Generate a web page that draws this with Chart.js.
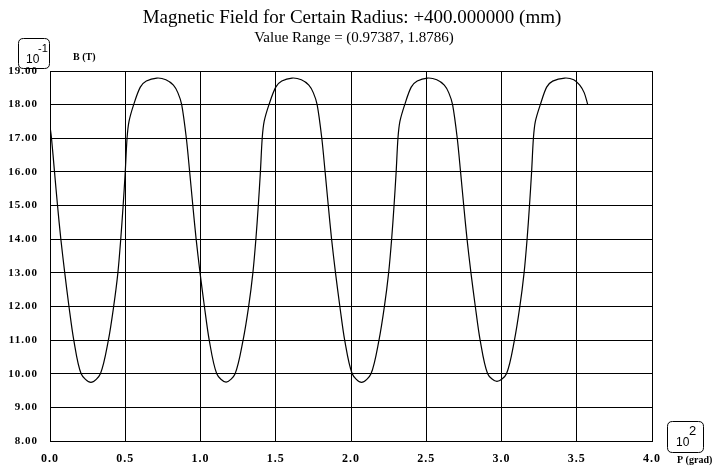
<!DOCTYPE html>
<html><head><meta charset="utf-8">
<script src="https://cdn.jsdelivr.net/npm/chart.js@4/dist/chart.umd.min.js"></script>
<style>html,body{margin:0;padding:0;background:#fff}#wrap{width:721px;height:470px;position:relative}canvas{display:block}</style>
</head><body><div id="wrap"><canvas id="c" width="721" height="470"></canvas></div>
<script>
const titleText = "Magnetic Field for Certain Radius: +400.000000 (mm)";
const subtitleText = "Value Range = (0.97387, 1.8786)";
const yUnitLabel = "B (T)";
const xUnitLabel = "P (grad)";
const yExponent = "-1";
const xExponent = "2";

const pValues = [
  0.000, 0.010, 0.030, 0.050, 0.072, 0.098, 0.126, 0.158, 0.207, 0.272, 0.335, 0.388, 0.423, 0.451, 0.470, 0.486, 0.500, 0.512, 0.525, 0.556, 0.600, 0.640, 0.710, 0.770, 0.820, 0.850, 0.875,
  0.906, 0.928, 0.949, 0.971, 0.997, 1.026, 1.058, 1.108, 1.170, 1.230, 1.283, 1.320, 1.348, 1.368, 1.384, 1.398, 1.410, 1.423, 1.455, 1.500, 1.540, 1.608, 1.670, 1.720, 1.750, 1.775,
  1.806, 1.828, 1.849, 1.871, 1.897, 1.926, 1.958, 2.008, 2.070, 2.133, 2.186, 2.222, 2.250, 2.270, 2.286, 2.300, 2.312, 2.325, 2.357, 2.400, 2.440, 2.508, 2.570, 2.620, 2.650, 2.675,
  2.706, 2.728, 2.749, 2.771, 2.797, 2.826, 2.858, 2.908, 2.970, 3.033, 3.086, 3.122, 3.150, 3.170, 3.186, 3.200, 3.212, 3.225, 3.258, 3.300, 3.340, 3.420, 3.480, 3.520, 3.550, 3.573
];
const bValues = [
  17.35, 17.00, 16.00, 15.00, 14.00, 13.00, 12.00, 11.00, 10.00, 9.74, 10.00, 11.00, 12.00, 13.00, 14.00, 15.00, 16.00, 17.00, 17.50, 18.00, 18.52, 18.70, 18.79, 18.74, 18.58, 18.35, 18.00,
  17.00, 16.00, 15.00, 14.00, 13.00, 12.00, 11.00, 10.00, 9.75, 10.00, 11.00, 12.00, 13.00, 14.00, 15.00, 16.00, 17.00, 17.50, 18.00, 18.52, 18.70, 18.79, 18.74, 18.58, 18.35, 18.00,
  17.00, 16.00, 15.00, 14.00, 13.00, 12.00, 11.00, 10.00, 9.74, 10.00, 11.00, 12.00, 13.00, 14.00, 15.00, 16.00, 17.00, 17.50, 18.00, 18.52, 18.70, 18.79, 18.74, 18.58, 18.35, 18.00,
  17.00, 16.00, 15.00, 14.00, 13.00, 12.00, 11.00, 10.00, 9.77, 10.00, 11.00, 12.00, 13.00, 14.00, 15.00, 16.00, 17.00, 17.50, 18.00, 18.52, 18.70, 18.79, 18.74, 18.58, 18.35, 18.00
];
const xTickValues = [0.0, 0.5, 1.0, 1.5, 2.0, 2.5, 3.0, 3.5, 4.0];
const yTickValues = [8, 9, 10, 11, 12, 13, 14, 15, 16, 17, 18, 19];

const points = pValues.map((p, i) => ({x: p, y: bValues[i]}));

function roundRect(ctx, x, y, w, h, r) {
  ctx.beginPath();
  ctx.moveTo(x + r, y);
  ctx.lineTo(x + w - r, y); ctx.quadraticCurveTo(x + w, y, x + w, y + r);
  ctx.lineTo(x + w, y + h - r); ctx.quadraticCurveTo(x + w, y + h, x + w - r, y + h);
  ctx.lineTo(x + r, y + h); ctx.quadraticCurveTo(x, y + h, x, y + h - r);
  ctx.lineTo(x, y + r); ctx.quadraticCurveTo(x, y, x + r, y);
  ctx.closePath();
  ctx.stroke();
}

const annot = {
  id: 'annot',
  beforeDraw(chart) {
    chart.ctx.letterSpacing = '1px';
  },
  afterDraw(chart) {
    const ctx = chart.ctx;
    ctx.save();
    ctx.letterSpacing = '0px';
    ctx.fillStyle = '#000';
    ctx.strokeStyle = '#000';
    ctx.textAlign = 'center';
    ctx.textBaseline = 'alphabetic';
    ctx.font = "19px 'Liberation Serif'";
    ctx.fillText(titleText, 352, 23);
    ctx.font = "15px 'Liberation Serif'";
    ctx.fillText(subtitleText, 354, 42);

    ctx.lineWidth = 1;
    roundRect(ctx, 18.5, 38.5, 31, 30, 5);
    ctx.font = "12px 'Liberation Sans'";
    ctx.textAlign = 'left';
    ctx.fillText("10", 26, 63);
    ctx.font = "11px 'Liberation Sans'";
    ctx.fillText(yExponent, 38, 52);

    roundRect(ctx, 667.5, 421.5, 36, 31, 5);
    ctx.font = "12px 'Liberation Sans'";
    ctx.fillText("10", 676, 446);
    ctx.font = "13px 'Liberation Sans'";
    ctx.fillText(xExponent, 689, 435);

    ctx.font = "bold 10px 'Liberation Serif'";
    ctx.fillText(yUnitLabel, 73, 60);
    ctx.fillText(xUnitLabel, 677, 463);
    ctx.restore();
  }
};

new Chart(document.getElementById('c'), {
  type: 'line',
  data: {
    datasets: [{
      data: points,
      borderColor: '#000',
      borderWidth: 1.2,
      pointRadius: 0,
      fill: false,
      tension: 0.3
    }]
  },
  options: {
    responsive: false,
    animation: false,
    devicePixelRatio: 1,
    layout: {padding: {left: 0, top: 71, right: 69, bottom: 0}},
    plugins: {legend: {display: false}, title: {display: false}, tooltip: {enabled: false}},
    scales: {
      x: {
        type: 'linear', min: 0, max: 4,
        afterFit(s) { s.height = 29; },
        afterBuildTicks(s) { s.ticks = xTickValues.map(v => ({value: v})); },
        grid: {color: '#000', lineWidth: 1, drawTicks: false},
        border: {color: '#000', width: 1},
        ticks: {
          autoSkip: false, maxRotation: 0, padding: 11, color: '#000',
          font: {family: "'Liberation Serif'", size: 12, weight: 'bold'},
          callback: v => v.toFixed(1)
        }
      },
      y: {
        type: 'linear', min: 8, max: 19,
        afterFit(s) { s.width = 50; },
        afterBuildTicks(s) { s.ticks = yTickValues.map(v => ({value: v})); },
        grid: {color: '#000', lineWidth: 1, drawTicks: false},
        border: {color: '#000', width: 1},
        ticks: {
          autoSkip: false, padding: 12, color: '#000',
          font: {family: "'Liberation Serif'", size: 11, weight: 'bold'},
          callback: v => v.toFixed(2)
        }
      }
    }
  },
  plugins: [annot]
});
</script>
</body></html>
